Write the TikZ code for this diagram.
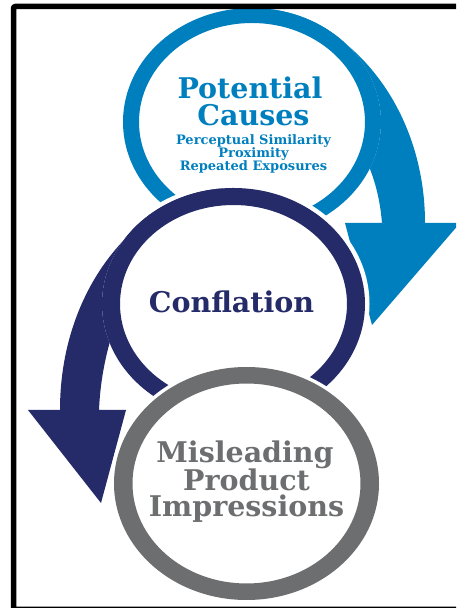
\documentclass[tikz,border=0pt]{standalone}
\usepackage{fontspec}
\setmainfont{DejaVu Serif}
\definecolor{blueC}{RGB}{0,127,190}
\definecolor{navyC}{RGB}{36,43,104}
\definecolor{grayC}{RGB}{109,110,112}
\begin{document}
\begin{tikzpicture}[x=1pt,y=1pt,
  bigtxt/.style={font=\bfseries\fontsize{28.5}{28.5}\selectfont, anchor=base, inner sep=0pt},
  smalltxt/.style={font=\bfseries\fontsize{13}{13}\selectfont, anchor=base, inner sep=0pt}]
\clip (0,0) rectangle (456,608);
\fill[white] (0,0) rectangle (456,608);
% ---- blue ring and arrow
\fill[blueC, even odd rule] (252,486) ellipse[x radius=129pt, y radius=114pt]
  (252,486) ellipse[x radius=113pt, y radius=99pt];
\fill[blueC] (252,600) .. controls (340,600) and (425,508) .. (425,385) -- (460,385)
  -- (372,283) -- (345,385) -- (382,385) .. controls (380,408) and (376,423) .. (369.8,439.6)
  arc[start angle=-24, end angle=90, x radius=129pt, y radius=114pt] -- cycle;
% ---- navy ring and arrow
\fill[white] (233.5,304) ellipse[x radius=136pt, y radius=120.5pt];
\fill[navyC, even odd rule] (233.5,304) ellipse[x radius=131.5pt, y radius=116pt]
  (233.5,304) ellipse[x radius=113.5pt, y radius=99pt];
\fill[navyC] (233.5,420) .. controls (150,420) and (60,330) .. (60,198) -- (28,198)
  -- (101,105) -- (126,198) -- (99,198) .. controls (100,222) and (104,245) .. (109.6,265.1)
  arc[start angle=199.6, end angle=90, x radius=131.5pt, y radius=116pt] -- cycle;
% ---- gray ring
\fill[white] (246.5,124.5) ellipse[x radius=136pt, y radius=120pt];
\fill[grayC, even odd rule] (246.5,124.5) ellipse[x radius=132.5pt, y radius=116.5pt]
  (246.5,124.5) ellipse[x radius=114pt, y radius=100pt];
% ---- texts
\node[bigtxt, text=blueC] (pot) at (250,509) {Potential};
\node[bigtxt, text=blueC] (cau) at (253.5,482) {Causes};
\node[smalltxt, text=blueC] (per) at (253.5,463.7) {Perceptual Similarity};
\node[smalltxt, text=blueC] (pro) at (253.5,450.3) {Proximity};
\node[smalltxt, text=blueC] (rep) at (253.5,437) {Repeated Exposures};
\node[bigtxt, text=navyC] (con) at (231.5,295) {Conflation};
\node[bigtxt, text=grayC] (mis) at (245,145) {Misleading};
\node[bigtxt, text=grayC] (prd) at (246.5,117) {Product};
\node[bigtxt, text=grayC] (imp) at (246.5,91) {Impressions};
% ---- frame
\draw[line width=5.5pt, rounded corners=2pt] (13.5,601.5) rectangle (462,-1.5);
\end{tikzpicture}
\end{document}
